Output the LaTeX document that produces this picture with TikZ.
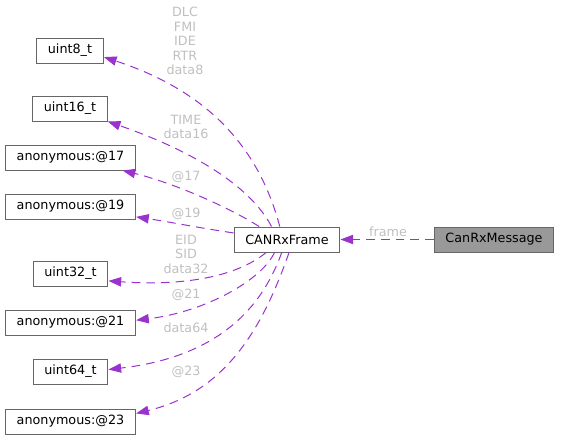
\documentclass[tikz,border=0pt]{standalone}
\usepackage{fontspec}
\setmainfont{DejaVu Sans}
\usetikzlibrary{arrows.meta}
\definecolor{edgepurple}{HTML}{9A32CD}
\definecolor{labelgrey}{HTML}{C0C0C0}
\definecolor{boxborder}{HTML}{666666}
\definecolor{boxfill}{HTML}{999999}
\begin{document}
\begin{tikzpicture}[
      x = 0.75bp, y = -0.75bp,
      every node/.style = {font=\fontsize{9.6}{10.9}\selectfont},
      class/.style = {shape=rectangle, draw=boxborder, line width=0.75bp, inner xsep=8.5bp, inner ysep=0pt, minimum height=18.75bp},
      member/.style = {text=labelgrey, align=center, inner sep=0pt},
      usage/.style = {draw=edgepurple, line width=0.75bp, dash pattern=on 6.5bp off 4.5bp, -{Triangle[length=9.5bp, width=7bp]}}
      ]
      \useasboundingbox (0,0) rectangle (561,439);
      \node[class] (u8) at (70,50.5) {uint8\_t};
      \node[class] (u16) at (70,108.5) {uint16\_t};
      \node[class] (anon17) at (70.5,157.5) {anonymous:@17};
      \node[class] (anon19) at (70.5,206.5) {anonymous:@19};
      \node[class] (u32) at (70.5,273.5) {uint32\_t};
      \node[class] (anon21) at (70.5,322.5) {anonymous:@21};
      \node[class] (u64) at (70.5,371.5) {uint64\_t};
      \node[class] (anon23) at (70.5,421.5) {anonymous:@23};
      \node[class] (frame) at (287,239.5) {CANRxFrame};
      \node[class, fill=boxfill] (msg) at (494,239.5) {CanRxMessage};

      \draw[usage] (msg) -- (frame);
      \draw[usage] (frame.119) .. controls (262,160) and (220,95) .. (u8.349);
      \draw[usage] (frame.140) .. controls (250,185) and (190,150) .. (u16.341);
      \draw[usage] (frame.155) .. controls (225,205) and (170,182) .. (anon17.346);
      \draw[usage] (frame.173) .. controls (200,228) and (170,222) .. (anon19.351);
      \draw[usage] (frame.212) .. controls (235,278) and (180,286) .. (u32.349);
      \draw[usage] (frame.226) .. controls (262,280) and (205,312) .. (anon21.2);
      \draw[usage] (frame.248) .. controls (268,290) and (235,355) .. (u64.3);
      \draw[usage] (frame.279) .. controls (262,330) and (225,392) .. (anon23.7);

      \node[member] (lbl8) at (185,41) {DLC\\FMI\\IDE\\RTR\\data8};
      \node[member] (lbl16) at (186,127) {TIME\\data16};
      \node[member] (lbl17) at (186,177) {@17};
      \node[member] (lbl19) at (186,214) {@19};
      \node[member] (lbl32) at (186,254) {EID\\SID\\data32};
      \node[member] (lbl21) at (186,295) {@21};
      \node[member] (lbl64) at (186,328) {data64};
      \node[member] (lbl23) at (186,372) {@23};
      \node[member] (lblframe) at (388,232) {frame};
\end{tikzpicture}
\end{document}
